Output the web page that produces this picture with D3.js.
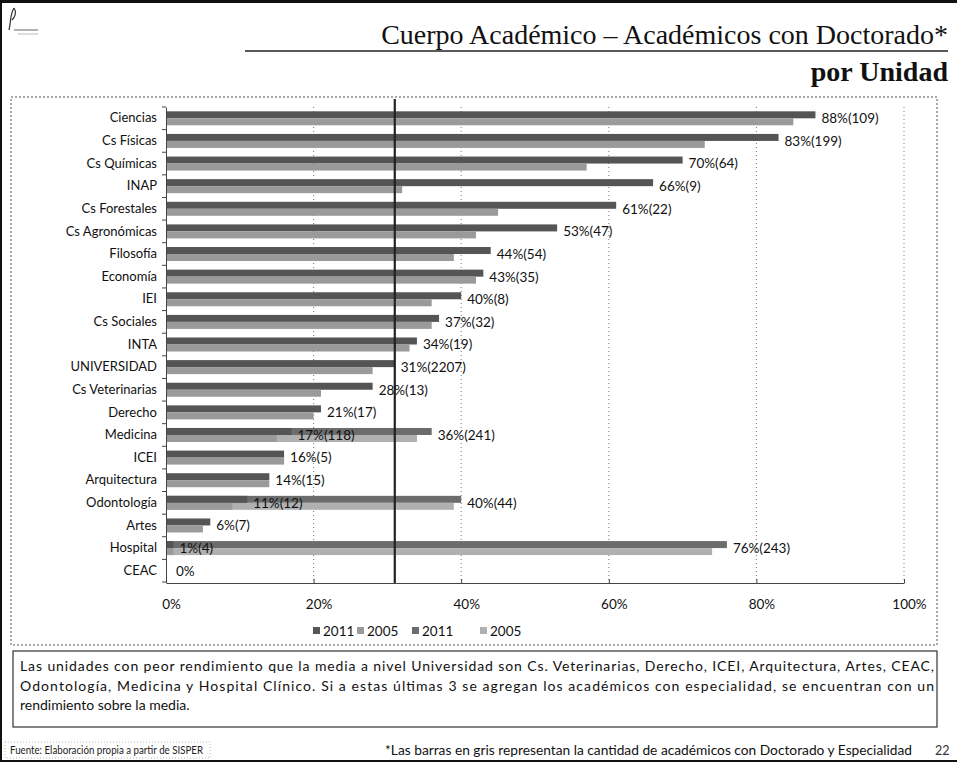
<!DOCTYPE html>
<html><head><meta charset="utf-8">
<script src="https://cdn.jsdelivr.net/npm/d3@7"></script>
<style>body{margin:0;background:#fff} svg{display:block}</style>
</head><body><svg id="c" width="957" height="771"></svg>
<script>
// ---------- data ----------
const categories = ["Ciencias","Cs Físicas","Cs Químicas","INAP","Cs Forestales","Cs Agronómicas","Filosofía","Economía","IEI","Cs Sociales","INTA","UNIVERSIDAD","Cs Veterinarias","Derecho","Medicina","ICEI","Arquitectura","Odontología","Artes","Hospital","CEAC"];
const doc2011 = [88,83,70,66,61,53,44,43,40,37,34,31,28,21,17,16,14,11,6,1,0];
const doc2005 = [85,73,57,32,45,42,39,42,36,36,33,28,21,20,15,16,14,9,5,1,0];
const count2011 = [109,199,64,9,22,47,54,35,8,32,19,2207,13,17,118,5,15,12,7,4,null];
// grey bars: doctorado + especialidad (only some units)
const esp2011 = [null,null,null,null,null,null,null,null,null,null,null,null,null,null,36,null,null,40,null,76,null];
const esp2005 = [null,null,null,null,null,null,null,null,null,null,null,null,null,null,34,null,null,39,null,74,null];
const espCount2011 = [null,null,null,null,null,null,null,null,null,null,null,null,null,null,241,null,null,44,null,243,null];
const meanValue = 31;
const xTicks = [0,20,40,60,80,100];
const legendLabels = ["2011","2005","2011","2005"];
const titleLines = ["Cuerpo Académico – Académicos con Doctorado*","por Unidad"];
const noteLines = [
 "Las unidades con peor rendimiento que la media a nivel Universidad son Cs. Veterinarias, Derecho, ICEI, Arquitectura, Artes, CEAC,",
 "Odontología, Medicina y Hospital Clínico. Si a estas últimas 3 se agregan los académicos con especialidad, se encuentran con un",
 "rendimiento sobre la media."];
const sourceText = "Fuente: Elaboración propia a partir de SISPER";
const footNote = "*Las barras en gris representan la cantidad de académicos con Doctorado y Especialidad";
const pageNumber = "22";

// ---------- drawing ----------
const svg = d3.select("#c");
const sans = "Lato, 'Open Sans', sans-serif";
const serif = "'Liberation Serif','DejaVu Serif',serif";
const col = {d11:"#555555", d05:"#9a9a9a", e11:"#6c6c6c", e05:"#b0b0b0"};

// slide frame
svg.append("line").attr("x1",0).attr("x2",957).attr("y1",1.5).attr("y2",1.5).attr("stroke","#111").attr("stroke-width",3);
svg.append("line").attr("x1",1).attr("x2",1).attr("y1",0).attr("y2",761).attr("stroke","#111").attr("stroke-width",2);
svg.append("line").attr("x1",0).attr("x2",957).attr("y1",761).attr("y2",761).attr("stroke","#111").attr("stroke-width",2);

// logo mark
const logo = svg.append("g").attr("transform","translate(8,8)");
logo.append("path").attr("d","M6,0 C2,6 3,14 1,22 M6,0 C9,4 7,9 4,12").attr("fill","none").attr("stroke","#333").attr("stroke-width",1.2);
logo.append("line").attr("x1",6).attr("x2",30).attr("y1",22).attr("y2",22).attr("stroke","#999").attr("stroke-width",1.5);
logo.append("line").attr("x1",10).attr("x2",30).attr("y1",26).attr("y2",26).attr("stroke","#bbb").attr("stroke-width",1);

// title
svg.append("text").attr("x",948).attr("y",44).attr("text-anchor","end")
  .attr("font-family",serif).attr("font-size",28).attr("fill","#111").text(titleLines[0]);
svg.append("line").attr("x1",245).attr("x2",948).attr("y1",51).attr("y2",51).attr("stroke","#222").attr("stroke-width",1.5);
svg.append("text").attr("x",948).attr("y",81).attr("text-anchor","end")
  .attr("font-family",serif).attr("font-size",28).attr("font-weight","bold").attr("fill","#111").text(titleLines[1]);

// chart box
svg.append("rect").attr("x",11).attr("y",97).attr("width",926).attr("height",548)
  .attr("fill","none").attr("stroke","#555").attr("stroke-width",1).attr("stroke-dasharray","2,2");

const x = d3.scaleLinear().domain([0,100]).range([166,904]);
const y = d3.scaleBand().domain(categories).range([107,582]);
const bh = 7;

// gridlines
svg.append("g").selectAll("line").data(xTicks.filter(d=>d>0)).join("line")
  .attr("x1",d=>x(d)).attr("x2",d=>x(d)).attr("y1",107).attr("y2",582)
  .attr("stroke","#777").attr("stroke-width",1).attr("stroke-dasharray","1,3");

const rows = categories.map((c,i)=>({c,i,d11:doc2011[i],d05:doc2005[i],e11:esp2011[i],e05:esp2005[i],n:count2011[i],en:espCount2011[i]}));

// grey bars (doctorado + especialidad)
const gE = svg.append("g");
gE.selectAll("rect.e11").data(rows.filter(r=>r.e11!=null)).join("rect")
  .attr("x",x(0)).attr("y",r=>y(r.c)+y.bandwidth()/2-bh).attr("width",r=>x(r.e11)-x(0)).attr("height",bh).attr("fill",col.e11);
gE.append("g").selectAll("rect").data(rows.filter(r=>r.e05!=null)).join("rect")
  .attr("x",x(0)).attr("y",r=>y(r.c)+y.bandwidth()/2).attr("width",r=>x(r.e05)-x(0)).attr("height",bh).attr("fill",col.e05);

// doctorado bars
const gD = svg.append("g");
gD.selectAll("rect.d11").data(rows).join("rect")
  .attr("x",x(0)).attr("y",r=>y(r.c)+y.bandwidth()/2-bh).attr("width",r=>x(r.d11)-x(0)).attr("height",bh).attr("fill",col.d11);
gD.append("g").selectAll("rect").data(rows).join("rect")
  .attr("x",x(0)).attr("y",r=>y(r.c)+y.bandwidth()/2).attr("width",r=>x(r.d05)-x(0)).attr("height",bh).attr("fill",col.d05);

// mean line
svg.append("line").attr("x1",x(meanValue)).attr("x2",x(meanValue)).attr("y1",99).attr("y2",584)
  .attr("stroke","#222").attr("stroke-width",2.2);

// value labels
const gL = svg.append("g").attr("font-family",sans).attr("font-size",13.5).attr("fill","#111");
gL.selectAll("text.v").data(rows).join("text")
  .attr("x",r=>x(Math.max(r.d11,r.d05))+ (r.d11===0?10:6)).attr("y",r=>y(r.c)+y.bandwidth()/2).attr("dy","0.36em")
  .text(r=>r.d11+"%"+(r.n!=null?"("+r.n+")":""));
gL.append("g").selectAll("text").data(rows.filter(r=>r.e11!=null)).join("text")
  .attr("x",r=>x(Math.max(r.e11,r.e05))+6).attr("y",r=>y(r.c)+y.bandwidth()/2).attr("dy","0.36em")
  .text(r=>r.e11+"%("+r.en+")");

// y axis
const yAx = svg.append("g").attr("transform",`translate(${x(0)},0)`)
  .call(d3.axisLeft(y).tickSize(0).tickPadding(9));
yAx.select(".domain").attr("stroke","#444");
yAx.selectAll("text").attr("font-family",sans).attr("font-size",13).attr("fill","#111");
// category separators ticks
svg.append("g").selectAll("line").data(d3.range(categories.length+1)).join("line")
  .attr("x1",x(0)-4).attr("x2",x(0)).attr("y1",i=>107+i*y.step()).attr("y2",i=>107+i*y.step()).attr("stroke","#444");

// x axis
const xAx = svg.append("g").attr("transform","translate(0,583)")
  .call(d3.axisBottom(x).tickValues(xTicks).tickSizeInner(-4).tickSizeOuter(0).tickPadding(16).tickFormat(d=>d+"%"));
xAx.select(".domain").attr("stroke","#444");
xAx.selectAll(".tick line").attr("stroke","#444");
xAx.selectAll("text").attr("font-family",sans).attr("font-size",13.5).attr("fill","#111").attr("dx","5");

// legend
const legCols = [col.d11,col.d05,col.e11,col.e05];
const legX = [313,357,412,480];
const leg = svg.append("g").attr("font-family",sans).attr("font-size",13.5).attr("fill","#111");
legendLabels.forEach((t,i)=>{
  leg.append("rect").attr("x",legX[i]).attr("y",627).attr("width",7).attr("height",7).attr("fill",legCols[i]);
  leg.append("text").attr("x",legX[i]+10).attr("y",631).attr("dy","0.36em").text(t);
});

// note box
svg.append("rect").attr("x",13).attr("y",651).attr("width",924).attr("height",76)
  .attr("fill","none").attr("stroke","#333").attr("stroke-width",1.2);
const note = svg.append("g").attr("font-family",sans).attr("font-size",14).attr("fill","#111");
noteLines.forEach((t,i)=>{
  const el = note.append("text").attr("x",20).attr("y",671+i*19.5).text(t);
  if(i<noteLines.length-1) el.attr("textLength",914).attr("lengthAdjust","spacing");
});

// footer
svg.append("rect").attr("x",5).attr("y",742).attr("width",205).attr("height",16)
  .attr("fill","none").attr("stroke","#aaa").attr("stroke-width",0.8).attr("stroke-dasharray","1,2");
svg.append("text").attr("x",10).attr("y",754).attr("font-family",sans).attr("font-size",10.5).attr("fill","#222")
  .attr("textLength",193).attr("lengthAdjust","spacingAndGlyphs").text(sourceText);
svg.append("text").attr("x",385).attr("y",755).attr("font-family",sans).attr("font-size",13).attr("fill","#111")
  .attr("textLength",527).attr("lengthAdjust","spacingAndGlyphs").text(footNote);
svg.append("text").attr("x",935).attr("y",755).attr("font-family",sans).attr("font-size",12.5).attr("fill","#333").text(pageNumber);
</script></body></html>
